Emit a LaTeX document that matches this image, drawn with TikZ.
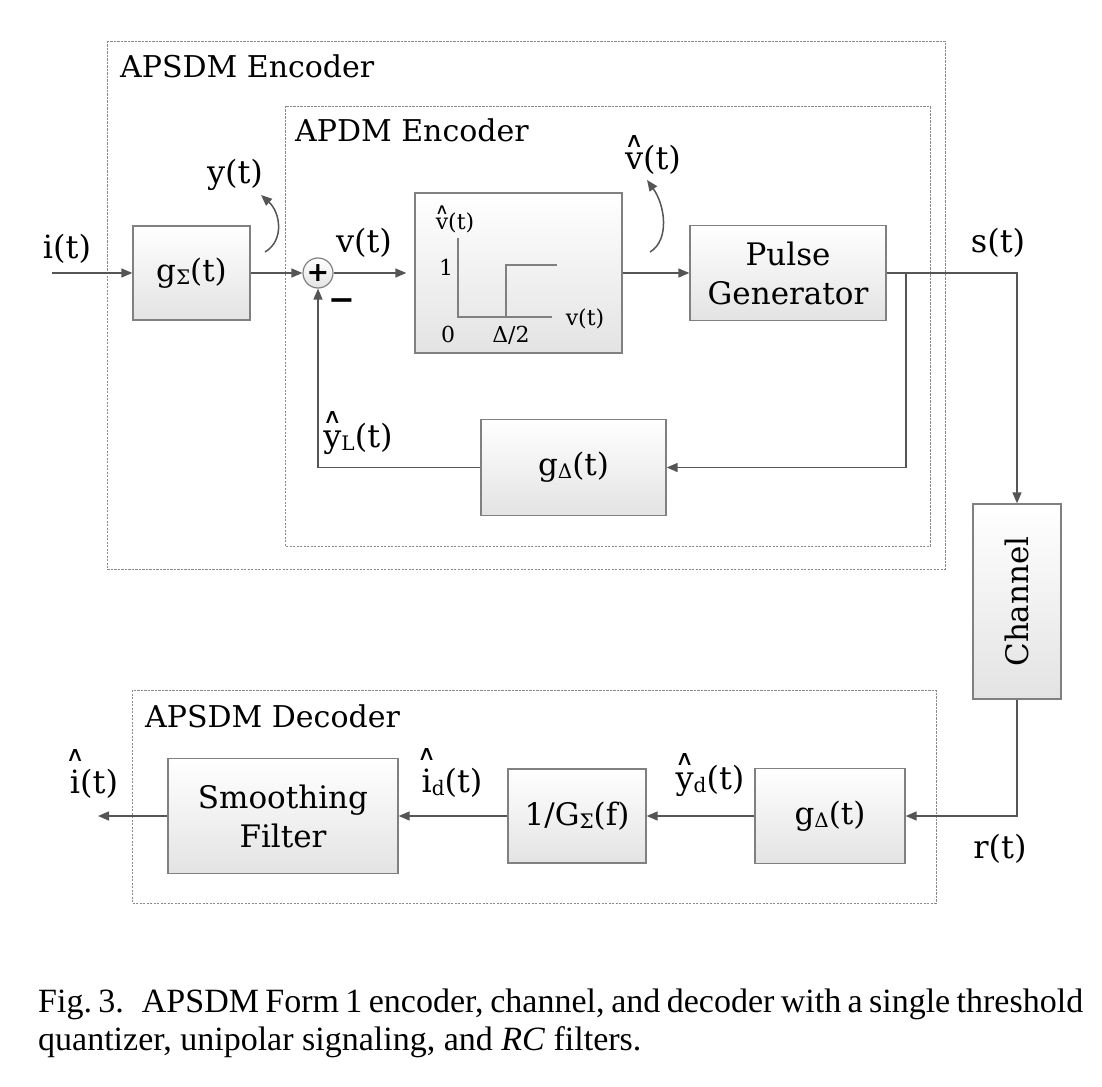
\documentclass[tikz,border=0pt]{standalone}
\usepackage{fontspec}
\setmainfont{DejaVu Serif}
\newfontfamily\capfont{Liberation Serif}
\newfontfamily\symfont{DejaVu Sans}
\usetikzlibrary{arrows.meta,calc}
\definecolor{linegray}{HTML}{555555}
\definecolor{bordergray}{HTML}{808080}
\definecolor{framegray}{HTML}{8A8A8A}
\definecolor{fillgray}{HTML}{E3E3E3}
\newsavebox\hatbox
\newcommand\hatc[3]{\sbox\hatbox{#3}\rlap{\hbox to \wd\hatbox{\hss\raisebox{#1}{\scalebox{1.45}[1.15]{\symfont\fontsize{#2}{#2}\selectfont ∧}}\hss}}\usebox\hatbox}
\newcommand\sub[1]{\raisebox{-3pt}{\fontsize{20}{20}\selectfont #1}}
\tikzset{
  block/.style={draw=bordergray, line width=1.3pt, top color=white, bottom color=fillgray,
    font=\fontsize{31}{39}\selectfont, align=center, inner sep=0pt},
  sumc/.style={circle, draw=bordergray, line width=1.2pt, top color=white, bottom color=fillgray,
    minimum size=30pt, inner sep=0pt},
  sig/.style={draw=linegray, line width=1.5pt, -{Triangle[length=11pt,width=9pt]}},
  frame/.style={draw=framegray, line width=0.9pt, dash pattern=on 2.2pt off 1.3pt},
  ttl/.style={font=\fontsize{30}{36}\selectfont, inner sep=0pt},
  lbl/.style={font=\fontsize{32}{38}\selectfont, inner sep=0pt},
  slbl/.style={font=\fontsize{22}{26}\selectfont, inner sep=0pt},
  qline/.style={draw=bordergray, line width=1.4pt},
  captxt/.style={anchor=base west, inner sep=0pt, font=\capfont\fontsize{34}{40}\selectfont},
}
\begin{document}
\begin{tikzpicture}[x=1pt,y=-1pt]
\useasboundingbox (0,0) rectangle (1102,1086);
% frames
\draw[frame] (107,41) rectangle (945,569);
\draw[frame] (285,106) rectangle (930,546);
\draw[frame] (132,690) rectangle (936,903);
\node[ttl,anchor=base west] (encT) at (120,78) {APSDM Encoder};
\node[ttl,anchor=base west] (apdmT) at (295,142) {APDM Encoder};
\node[ttl,anchor=base west] (decT) at (145,727) {APSDM Decoder};
% blocks
\node[block, minimum width=117pt, minimum height=94pt] (gS) at (191.5,273) {g\sub{Σ}(t)};
\node[sumc] (sum) at (318,273) {\symfont\bfseries\fontsize{27}{27}\selectfont +};
\node[block, minimum width=207pt, minimum height=160pt] (quant) at (518.5,273) {};
\node[block, minimum width=196pt, minimum height=95pt] (pulse) at (788,273) {Pulse\\Generator};
\node[block, minimum width=185pt, minimum height=96pt] (gD1) at (573.5,467.5) {g\sub{Δ}(t)};
\node[block, minimum width=88pt, minimum height=195pt] (chan) at (1017,601.5) {\rotatebox{90}{Channel}};
\node[block, minimum width=230pt, minimum height=115pt] (smooth) at (283,816) {Smoothing\\Filter};
\node[block, minimum width=138pt, minimum height=94pt] (invG) at (577,816) {1/G\sub{Σ}(f)};
\node[block, minimum width=150pt, minimum height=95pt] (gD2) at (830,816) {g\sub{Δ}(t)};
% quantizer characteristic
\draw[qline] (458,238) -- (458,317) -- (552,317);
\draw[qline] (506,317) -- (506,265) -- (557,265);
\node[slbl,anchor=base] (qv) at (455,229) {\hatc{15pt}{13}{v}(t)};
\node[slbl,anchor=base] (q1) at (446,275) {1};
\node[slbl,anchor=base] (q0) at (448,342) {0};
\node[slbl,anchor=base] (qd) at (511,342) {Δ/2};
\node[slbl,anchor=base] (qvt) at (585,325) {v(t)};
% connectors
\coordinate (iin) at (52,273);
\coordinate (br) at (906,273);
\coordinate (iout) at (98,816);
\draw[sig] (iin) -- (gS.west);
\draw[sig] (gS.east) -- (sum.west);
\draw[sig, shorten >=8pt] (sum.east) -- (quant.west);
\draw[sig] (quant.east) -- (pulse.west);
\draw[sig] (pulse.east) -| (chan.north);
\draw[sig] (br) |- (gD1.east);
\draw[sig] (gD1.west) -| (sum.south);
\draw[sig] (chan.south) |- (gD2.east);
\draw[sig] (gD2.west) -- (invG.east);
\draw[sig] (invG.west) -- (smooth.east);
\draw[sig] (smooth.west) -- (iout);
% curved probe arrows
\coordinate (ya) at (265,252);
\coordinate (yb) at (261,195);
\coordinate (va) at (650,252);
\coordinate (vb) at (647,180);
\draw[sig] (ya) .. controls (285,240) and (280,212) .. (yb);
\draw[sig] (va) .. controls (670,240) and (665,205) .. (vb);
% signal labels
\node[lbl,anchor=base] (li) at (67,258) {i(t)};
\node[lbl,anchor=base] (ly) at (235,183) {y(t)};
\node[lbl,anchor=base] (lv) at (364,252) {v(t)};
\node[lbl,anchor=base] (lvh) at (653,170) {\hatc{22pt}{18}{v}(t)};
\node[lbl,anchor=base] (ls) at (998,252) {s(t)};
\node[lbl,anchor=base] (lyl) at (358,447) {\hatc{24pt}{18}{y}\sub{L}(t)};
\node[lbl] (minus) at (342,305) {\bfseries −};
\node[lbl,anchor=base] (lih) at (94,793) {\hatc{32pt}{18}{i}(t)};
\node[lbl,anchor=base] (lid) at (452,792) {\hatc{32pt}{18}{i}\sub{d}(t)};
\node[lbl,anchor=base] (lyd) at (710,789) {\hatc{24pt}{18}{y}\sub{d}(t)};
\node[lbl,anchor=base] (lr) at (1000,858) {r(t)};
% caption
\node[captxt] (cap1) at (38,1012)
  {\hbox to 1045pt{Fig.~3.\hspace{18pt}APSDM Form 1 encoder, channel, and decoder with a single threshold}};
\node[captxt] (cap2) at (38,1050)
  {quantizer, unipolar signaling, and \textit{RC} filters.};
\end{tikzpicture}
\end{document}
